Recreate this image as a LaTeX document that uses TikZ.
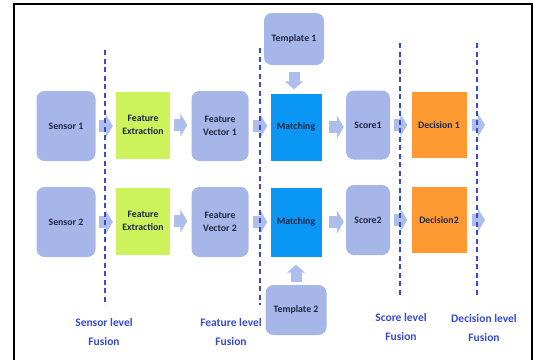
\documentclass[tikz,border=0pt]{standalone}
\usepackage{fontspec}
\setmainfont{Carlito}
\usetikzlibrary{arrows.meta}

\definecolor{boxblue}{RGB}{166,182,232}
\definecolor{arrowblue}{RGB}{174,190,236}
\definecolor{matchblue}{RGB}{10,150,245}
\definecolor{featgreen}{RGB}{204,242,92}
\definecolor{decorange}{RGB}{255,154,51}
\definecolor{textnavy}{RGB}{30,40,70}
\definecolor{fusionblue}{RGB}{55,75,205}

\tikzset{
  block/.style={draw=none,fill=boxblue,rounded corners=8pt,align=center,
    text=textnavy,font=\bfseries\fontsize{9.8}{13}\selectfont},
  plainblock/.style={block,rounded corners=0pt},
  blockarrow/.style={arrowblue,line width=12pt,-{Triangle[length=7pt,width=23pt]}},
  fusionline/.style={fusionblue,line width=1.3pt,dash pattern=on 5pt off 3.5pt},
  fusionlabel/.style={align=center,text=fusionblue,font=\bfseries\fontsize{11.5}{19}\selectfont}
}

\begin{document}
\begin{tikzpicture}[x=1pt,y=-1pt]
      \useasboundingbox (0,0) rectangle (534,360);
      \draw[line width=2pt] (14,360) -- (14,4) -- (532,4) -- (532,360);
      \draw
        (66,126) node[block,minimum width=59pt,minimum height=70pt] (s1){Sensor 1}
        (143,125) node[plainblock,fill=featgreen,minimum width=54pt,minimum height=67pt] (fe1){Feature\\Extraction}
        (220,126) node[block,minimum width=57pt,minimum height=70pt] (fv1){Feature\\Vector 1}
        (294,39) node[block,minimum width=60pt,minimum height=52pt] (t1){Template 1}
        (296,127) node[plainblock,fill=matchblue,minimum width=51pt,minimum height=67pt] (m1){Matching}
        (368,125) node[block,minimum width=44pt,minimum height=69pt] (sc1){Score1}
        (439,125) node[plainblock,fill=decorange,minimum width=55pt,minimum height=66pt] (d1){Decision 1}
        (66,222) node[block,minimum width=59pt,minimum height=70pt] (s2){Sensor 2}
        (143,221) node[plainblock,fill=featgreen,minimum width=54pt,minimum height=67pt] (fe2){Feature\\Extraction}
        (220,222) node[block,minimum width=57pt,minimum height=70pt] (fv2){Feature\\Vector 2}
        (296,222) node[plainblock,fill=matchblue,minimum width=51pt,minimum height=69pt] (m2){Matching}
        (296,310) node[block,minimum width=61pt,minimum height=50pt] (t2){Template 2}
        (368,220) node[block,minimum width=44pt,minimum height=70pt] (sc2){Score2}
        (439,220) node[plainblock,fill=decorange,minimum width=55pt,minimum height=66pt] (d2){Decision2};
      \coordinate (out1) at (485,125);
      \coordinate (out2) at (485,220);
      \begin{scope}[blockarrow]
        \draw[shorten <=3pt,shorten >=3pt] (s1) -- (s1 -| fe1.west);
        \draw[shorten <=4pt,shorten >=4pt] (fe1) -- (fe1 -| fv1.west);
        \draw[shorten <=4pt,shorten >=3pt] (fv1) -- (fv1 -| m1.west);
        \draw[shorten <=7pt,shorten >=2pt] (m1) -- (m1 -| sc1.west);
        \draw[shorten <=4pt,shorten >=4pt] (sc1) -- (sc1 -| d1.west);
        \draw[shorten <=5pt] (d1) -- (out1);
        \draw[shorten <=3pt,shorten >=3pt] (s2) -- (s2 -| fe2.west);
        \draw[shorten <=4pt,shorten >=4pt] (fe2) -- (fe2 -| fv2.west);
        \draw[shorten <=4pt,shorten >=3pt] (fv2) -- (fv2 -| m2.west);
        \draw[shorten <=7pt,shorten >=2pt] (m2) -- (m2 -| sc2.west);
        \draw[shorten <=4pt,shorten >=4pt] (sc2) -- (sc2 -| d2.west);
        \draw[shorten <=5pt] (d2) -- (out2);
        \draw[line width=11pt,-{Triangle[length=8pt,width=18pt]},shorten <=7pt,shorten >=4pt] (t1) -- (t1 |- m1.north);
        \draw[line width=11pt,-{Triangle[length=8pt,width=18pt]},shorten <=3pt,shorten >=8pt] (t2) -- (t2 |- m2.south);
      \end{scope}
      % fusion levels
      \draw[fusionline] (105,50) -- (105,305);
      \draw[fusionline] (260,48) -- (260,305);
      \draw[fusionline] (400,43) -- (400,297);
      \draw[fusionline] (477,43) -- (477,297);
      \node[fusionlabel] (sl) at (104,332) {Sensor level\\Fusion};
      \node[fusionlabel] (fl) at (231,332) {Feature level\\Fusion};
      \node[fusionlabel] (scl) at (401,327) {Score level\\Fusion};
      \node[fusionlabel] (dl) at (484,328) {Decision level\\Fusion};
    \end{tikzpicture}
\end{document}
